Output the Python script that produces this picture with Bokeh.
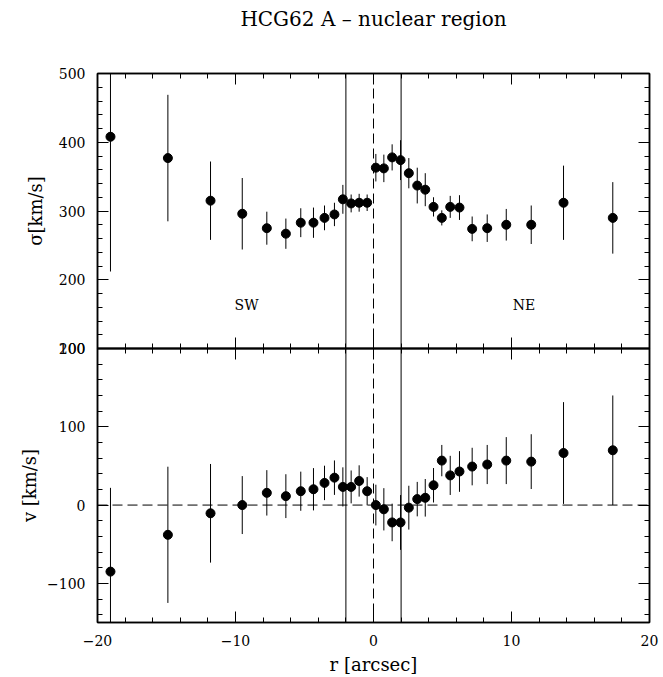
from bokeh.plotting import figure
from bokeh.layouts import column
from bokeh.models import (ColumnDataSource, Span, Label, LinearAxis, Range1d,
                          SingleIntervalTicker, CustomJSTickFormatter)
from bokeh.embed import file_html
from bokeh.resources import INLINE

# ---- data ----
r = [-19.06, -14.90, -11.81, -9.51, -7.73, -6.35, -5.27, -4.35, -3.55, -2.83,
     -2.22, -1.62, -1.04, -0.46, 0.17, 0.75, 1.35, 1.96, 2.56, 3.17,
     3.75, 4.35, 4.95, 5.56, 6.23, 7.15, 8.24, 9.62, 11.43, 13.77, 17.34]
sigma = [408, 377, 315, 296, 275, 267, 283, 283, 290, 295,
         317, 311, 312, 312, 363, 362, 378, 374, 355, 337,
         331, 306, 290, 306, 305, 274, 275, 280, 280, 312, 290]
sigma_err = [196, 92, 57, 52, 24, 22, 21, 22, 18, 17,
             21, 13, 13, 12, 20, 20, 19, 29, 22, 26,
             24, 14, 11, 16, 18, 18, 20, 23, 28, 54, 52]
v = [-85, -38, -10.5, 0, 15.6, 11.4, 17.7, 20.2, 28.3, 35,
     23.2, 23.2, 30.8, 17.7, 0, -5.4, -22.2, -22.2, -3.3, 7.6,
     9.3, 25.3, 56.8, 37.9, 42.9, 49.2, 51.8, 56.8, 55.5, 66.5, 70]
v_err = [107, 87, 63, 37, 29, 28, 25, 27, 22, 22,
         25, 21, 20, 18, 26, 27, 24, 35, 28, 22,
         24, 22, 20, 25, 26, 24, 25, 30, 35, 65, 70]

x_limits = (-20, 20)
sigma_limits = (100, 500)
v_limits = (-150, 200)
aperture_edges = [-2, 2]
centre = 0
title_text = "HCG62 A \u2013 nuclear region"
x_label = "r [arcsec]"
sigma_label = "\u03c3[km/s]"
v_label = "v [km/s]"
side_labels = [("SW", -9.2, 163), ("NE", 10.9, 163)]

FONT = "DejaVu Serif"
W = 663
OVERLAP = 10  # extra border on each panel so the shared tick labels are not clipped

src = ColumnDataSource(dict(
    r=r, sigma=sigma, v=v,
    s_lo=[s - e for s, e in zip(sigma, sigma_err)],
    s_hi=[s + e for s, e in zip(sigma, sigma_err)],
    v_lo=[a - e for a, e in zip(v, v_err)],
    v_hi=[a + e for a, e in zip(v, v_err)],
))

minus_fmt = CustomJSTickFormatter(code="return tick < 0 ? '\\u2212' + (-tick) : '' + tick;")
blank_fmt = CustomJSTickFormatter(code="return '';")


def style_axis(ax, show_labels, interval, minor):
    ax.ticker = SingleIntervalTicker(interval=interval, num_minor_ticks=minor)
    ax.major_tick_in = 11
    ax.major_tick_out = 0
    ax.minor_tick_in = 5
    ax.minor_tick_out = 0
    ax.axis_line_width = 1.5
    ax.major_tick_line_width = 1
    ax.minor_tick_line_width = 1
    ax.major_label_text_font = FONT
    ax.major_label_text_color = "black"
    ax.axis_label_text_font = FONT
    ax.axis_label_text_font_style = "normal"
    ax.axis_label_text_color = "black"
    if show_labels:
        ax.major_label_text_font_size = "14px"
        ax.formatter = minus_fmt
    else:
        ax.formatter = blank_fmt
        ax.major_label_text_font_size = "0px"
        ax.major_label_standoff = 0


def make_fig(height, yr, top, bottom):
    p = figure(width=W, height=height, x_range=Range1d(*x_limits), y_range=Range1d(*yr),
               output_backend="svg", toolbar_location=None,
               min_border_left=97, min_border_right=14,
               min_border_top=top, min_border_bottom=bottom)
    p.grid.visible = False
    p.outline_line_color = "black"
    p.outline_line_width = 1.5
    for loc in aperture_edges:
        p.add_layout(Span(location=loc, dimension="height", line_color="black", line_width=1))
    p.add_layout(Span(location=centre, dimension="height", line_color="black",
                      line_width=1, line_dash="10 5"))
    return p


# ---- top panel: velocity dispersion ----
p1 = make_fig(348 + OVERLAP, sigma_limits, 73, OVERLAP)
p1.background_fill_color = "white"
p1.border_fill_color = "white"
p1.segment(x0="r", y0="s_lo", x1="r", y1="s_hi", source=src, line_color="black", line_width=1)
p1.scatter(x="r", y="sigma", source=src, size=9, color="black")
style_axis(p1.xaxis[0], False, 10, 5)
style_axis(p1.yaxis[0], True, 100, 5)
p1.yaxis[0].major_label_standoff = 12
p1.yaxis[0].axis_label = sigma_label
p1.yaxis[0].axis_label_text_font_size = "18px"
p1.yaxis[0].axis_label_standoff = 10
# top axis carries the page title as its label
ax = LinearAxis(axis_label=title_text)
style_axis(ax, False, 10, 5)
ax.axis_label_text_font_size = "20px"
ax.axis_label_standoff = 43
p1.add_layout(ax, "above")
ay = LinearAxis(); style_axis(ay, False, 100, 5); p1.add_layout(ay, "right")
for txt, xx, yy in side_labels:
    p1.add_layout(Label(x=xx, y=yy, text=txt, text_align="center", text_baseline="middle",
                        text_font=FONT, text_font_size="14px", text_color="black"))

# ---- bottom panel: velocity ----
p2 = make_fig(677 - 348 + OVERLAP, v_limits, OVERLAP, 52)
p2.background_fill_alpha = 0
p2.border_fill_alpha = 0
p2.styles = {"margin-top": f"-{2 * OVERLAP}px"}
p2.add_layout(Span(location=0, dimension="width", line_color="black",
                   line_width=1, line_dash="10 5"))
p2.segment(x0="r", y0="v_lo", x1="r", y1="v_hi", source=src, line_color="black", line_width=1)
p2.scatter(x="r", y="v", source=src, size=9, color="black")
style_axis(p2.xaxis[0], True, 10, 5)
p2.xaxis[0].major_label_standoff = 12
p2.xaxis[0].axis_label = x_label
p2.xaxis[0].axis_label_text_font_size = "18px"
p2.xaxis[0].axis_label_standoff = 5
style_axis(p2.yaxis[0], True, 100, 5)
p2.yaxis[0].major_label_standoff = 12
p2.yaxis[0].axis_label = v_label
p2.yaxis[0].axis_label_text_font_size = "18px"
p2.yaxis[0].axis_label_standoff = 4
ax2 = LinearAxis(); style_axis(ax2, False, 10, 5); p2.add_layout(ax2, "above")
ay2 = LinearAxis(); style_axis(ay2, False, 100, 5); p2.add_layout(ay2, "right")

layout = column(p1, p2, spacing=0)
open("out.html", "w").write(file_html(layout, INLINE))
